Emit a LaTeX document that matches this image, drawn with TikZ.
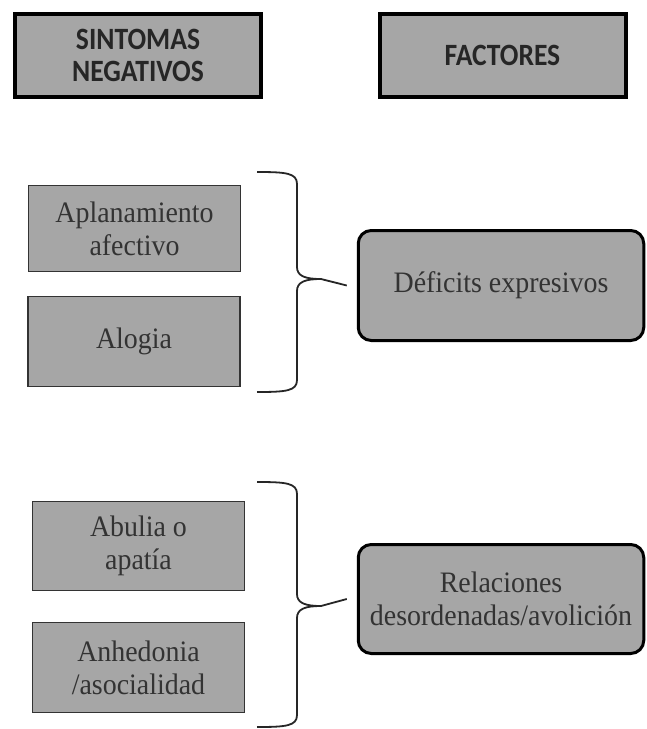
\documentclass[tikz,border=0pt]{standalone}
\usepackage{fontspec}
\setmainfont{Liberation Serif}[FakeStretch=0.94]
\newfontfamily\headfont{Carlito}[FakeStretch=0.89]
\definecolor{boxgray}{HTML}{A6A6A6}
\definecolor{inkgray}{HTML}{333333}
\definecolor{headink}{HTML}{262626}
\begin{document}
\begin{tikzpicture}[x=1pt,y=-1pt,
  head/.style={draw=black, line width=4pt, fill=boxgray, minimum width=246pt,
    minimum height=83pt, inner sep=0pt, align=center, text=headink,
    font=\headfont\bfseries\fontsize{31}{32.5}\selectfont},
  symptom/.style={draw=inkgray, line width=1.5pt, fill=boxgray, minimum width=212pt,
    inner sep=0pt, align=center, text=inkgray, font=\fontsize{29.7}{33}\selectfont},
  factor/.style={draw=black, line width=3pt, rounded corners=13pt, fill=boxgray,
    minimum width=285.5pt, inner sep=0pt, align=center, text=inkgray,
    font=\fontsize{29.7}{32.5}\selectfont},
  bracket/.style={draw=black!85, line width=1.8pt, line join=round}]
\useasboundingbox (0,0) rectangle (647,729);

% column headers
\node[head] (hsin) at (138,55.5) {SINTOMAS\\NEGATIVOS};
\node[head] (hfac) at (502.5,55.5) {FACTORES};

% symptoms
\node[symptom, minimum height=86pt] (apla) at (134.5,228.5) {Aplanamiento\\afectivo};
\node[symptom, minimum height=90pt] (alog) at (134,341.5) {Alogia};
\node[symptom, minimum height=89pt] (abul) at (138.5,546) {Abulia o\\apatía};
\node[symptom, minimum height=90pt] (anhe) at (138.5,667.5) {Anhedonia\\/asocialidad};

% factors
\node[factor, minimum height=110pt] (def) at (501,285.5) {Déficits expresivos};
\node[factor, minimum height=109pt] (rel) at (501,599) {Relaciones\\desordenadas/avolición};

% braces grouping the symptoms, each pointing to its factor
\foreach \t/\m/\b/\f/\k in {172/279/392/def/1, 482/606/727/rel/2}{
  \coordinate (tip\k) at (321,\m);
  \draw[bracket] (257,\t) .. controls (286,\t) and (297,\t+1) .. (297,\t+12)
    -- (297,\m-12) .. controls (297,\m-3) and (305,\m) .. (tip\k)
    .. controls (305,\m) and (297,\m+3) .. (297,\m+12)
    -- (297,\b-12) .. controls (297,\b-1) and (286,\b) .. (257,\b);
  \draw[bracket] (tip\k) -- ([xshift=-10pt]\f.west);
}
\end{tikzpicture}
\end{document}
